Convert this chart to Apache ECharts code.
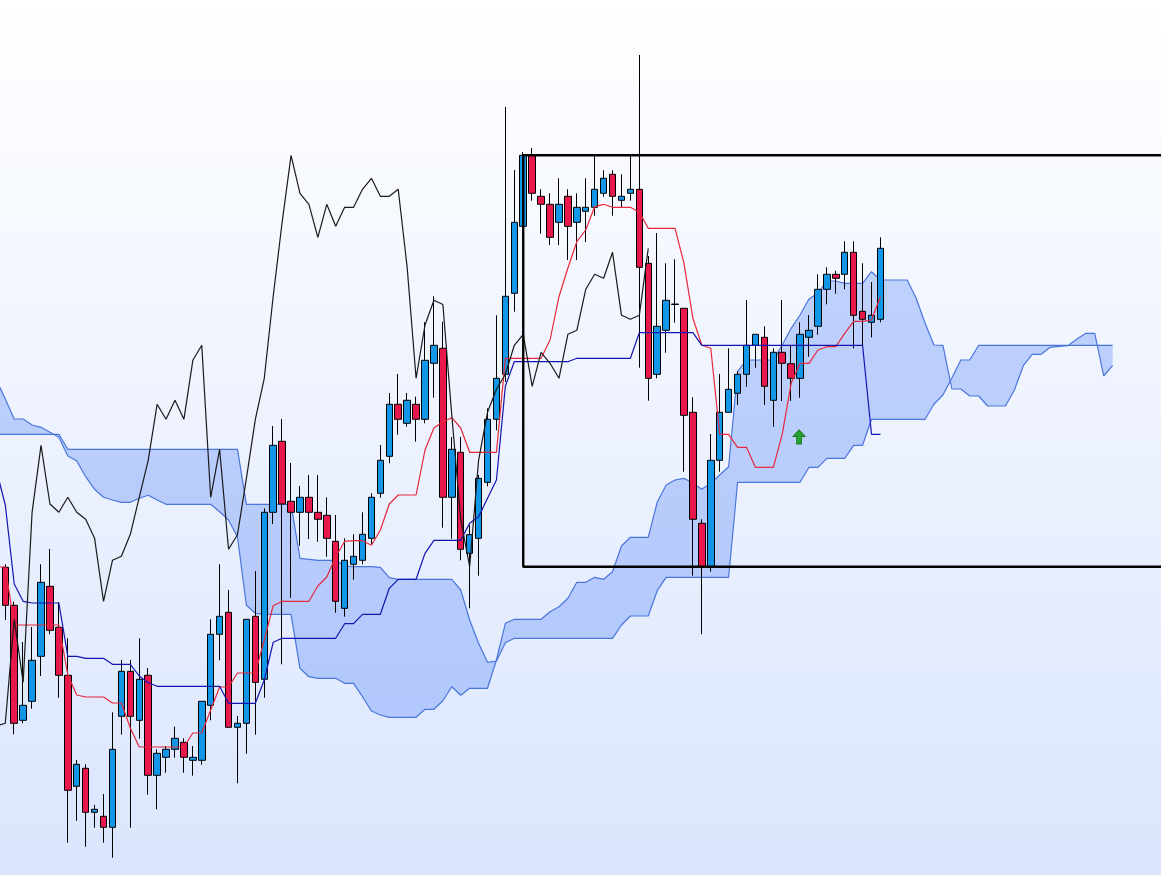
<!DOCTYPE html>
<html>
<head>
<meta charset="utf-8">
<style>html,body{margin:0;padding:0;width:100%;height:100%;overflow:hidden}#c{width:1161px;height:875px}</style>
<script src="https://cdn.jsdelivr.net/npm/echarts@6/dist/echarts.min.js"></script>
</head>
<body>
<div id="c"></div>
<script>
// Level scale is read top-down from the picture (axis is inverted). First candle is bar 0.
const opens = [567.3,605.3,720.3,701.3,656.3,586.3,627.3,675.3,786.3,768.3,812.3,816.3,827.3,716.3,671.3,720.3,675.3,775.3,757.3,749.3,742.3,760.3,760.3,705.3,634.3,612.3,727.3,723.3,616.3,679.3,512.3,441.3,501.3,512.3,497.3,512.3,515.3,541.3,608.3,564.3,560.3,538.3,493.3,456.3,404.3,423.3,404.3,419.3,363.3,348.3,497.3,452.3,553.3,538.3,482.3,419.3,374.3,293.3,226.3,155.3,196.3,204.3,222.3,196.3,222.3,211.3,207.3,193.3,174.3,200.3,193.3,189.3,263.3,374.3,330.3,304,308.3,412.3,523.3,566.7,460.3,412.3,393.3,374.3,345.3,337.3,400.3,352.3,363.7,378.3,337.3,326.3,289.3,274.3,274.3,252.3,311.3,322.3,319.3];
const closes = [605.3,723.3,705.3,660.3,582.3,630.3,675.3,790.3,764.3,812.3,809.3,827.3,749.3,671.3,716.3,679.3,775.3,753.3,749.3,738.3,757.3,757.3,701.3,634.3,616.3,727.3,723.3,619.3,682.3,512.3,445.3,504,512.3,497.3,512.3,519.3,538.3,601.3,560.3,556.3,534.3,497.3,460.3,404.3,419.3,400.3,419.3,360.3,345.3,497.3,449.3,549.3,534.7,478.3,419.3,378.3,296.3,222.3,155.3,193.3,204.3,237.3,204.3,226.3,207.3,207.3,189.3,178.3,196.3,196.3,189.3,267.3,378.3,326.3,300.3,304.5,415.3,519.3,566.7,460.3,412.3,389.3,374.3,345.3,334.3,386.3,352.3,363.3,378.3,334.3,330.3,289.3,274.3,278.3,252.3,315.3,319.3,315.3,248.3];
const wickTops = [564.3,601.7,642,627,564.3,549,602,638.3,760,764.3,805,794,712.3,660,660,638.3,668,749.3,746,726.7,738.3,746,701.3,619.3,564.3,590,716,619.3,571,508.3,426,419,463,486,475,475,497.3,515,538.3,534.3,512.3,493.3,445,393,374,393,396.7,322.3,296.3,321.7,437,437,525,475,408.3,315.3,107,170,152,148,189.3,193.3,178.3,189.3,193.3,178.3,155.3,170.3,170.3,174.3,155.3,55,256,233,263.3,259.3,308.3,397.3,519.3,434,374,348.3,371.3,300,334.3,326.3,348.3,300,346,322.3,315,274.3,267.3,270.7,241.3,241.3,263.3,282,237.3];
const wickBottoms = [620,734.3,723.3,708.7,676,634.3,697.7,842.7,820.7,846.7,827.7,842.7,857.7,734.7,827.7,738.7,794.7,809.3,772.7,757.7,772.7,775.7,764.7,720.3,660.3,727.3,783.3,753.7,734.7,697.7,524,664.3,597.7,545.7,539,541.7,556.7,612.7,616.7,579.7,564.3,544.3,497.7,463.3,434.7,426.7,441.7,423.3,397.7,527.7,538.7,560.3,608.3,575.7,486.3,430.3,382,311.7,226.3,200.7,233.7,245,245,260,260,242,215.7,196.7,215.7,207,200.7,367.7,400.7,378.3,352.7,322.7,471.7,575.7,634.3,571.7,471.7,412.3,405,386.7,367.7,405,426.7,401,401,397.7,356.7,334.7,304.3,293.7,289.3,348.3,345.3,337.3,322.3];
// Lines below start one bar earlier (bar -1, just off the left edge).
const tenkan = [567,567,625,625,625,625,625,625,675,695,697,697,697,703,703,728,747,747,747,747,747,747,733,733,710,687,687,673,673,673,640,605.7,601.3,601.3,601.3,601.3,586,577,556.7,541.3,540.7,540.7,545.3,530,504,495,495,495,450,428,421.7,417.7,428,452.3,452.3,452.3,452.3,358.3,358.3,358.3,358.3,358.3,340,296.7,268,241.7,230,206.7,204.3,207.3,207.3,207.3,212.3,228.3,228.3,228.3,228.3,263.3,318.3,345.3,348.3,434.3,434.3,447.3,447.3,467.3,467.3,467.3,434.3,383.3,363.3,363.3,350,346.7,346.7,333.3,321.3,321.3,320,296.7];
const kijun = [470,505,584,601.3,603,603,603,603,656.3,656.3,658.3,658.3,658.3,664.3,664.3,664.3,676,682.7,686.3,686.3,686.3,686.3,686.3,686.3,686.3,686.3,703.3,703.3,703.3,703.3,680,642.3,638.3,638.3,638.3,638.3,638.3,638.3,638.3,623.7,623.7,614.3,614.3,614.3,588.3,579.3,579.3,579.3,553.3,540.3,540.3,540.3,540.3,523.3,516.7,498.3,480,386,361.7,361.7,361.7,361.7,361.7,361.7,361.7,358.3,358.3,358.3,358.3,358.3,358.3,358.3,332.7,332.7,332.7,332.7,332.7,332.7,332.7,345.3,345.3,345.3,345.3,345.3,345.3,345.3,345.3,345.3,345.3,345.3,345.3,345.3,345.3,345.3,345.3,345.3,345.3,345.3,434.3,434.3];
const chikou = [726,723.3,619.3,682.3,512.3,445.3,504,512.3,497.3,512.3,519.3,538.3,601.3,560.3,556.3,534.3,497.3,460.3,404.3,419.3,400.3,419.3,360.3,345.3,497.3,449.3,549.3,534.7,478.3,419.3,378.3,296.3,222.3,155.3,193.3,204.3,237.3,204.3,226.3,207.3,207.3,189.3,178.3,196.3,196.3,189.3,267.3,378.3,325,300.3,304.5,415.3,519.3,566.7,460.3,412.3,389.3,374.3,345.3,334.3,386.3,352.3,363.3,378.3,334.3,330.3,289.3,274.3,278.3,252.3,315.3,319.3,315.3,248.3];
const spanA = [380,399,419,419,425,427.3,432.3,437.3,456,461,476.7,489.3,497.3,500,502.3,502.3,498.3,495.3,500,504.3,504.3,504.3,504.3,504.3,504.3,511.7,520,537,605.3,613.3,614.3,614.3,614.3,614.3,668.3,676.7,678.3,678.3,678.3,683.3,683.3,696.7,711,715,717.3,717.3,717.3,717.3,709.3,709.3,700.7,686.7,695.3,688.3,688.3,688.3,660,623.3,619.3,619.3,619.3,619.3,611.7,606.7,598.3,582.3,582.3,577.3,579.3,571.7,546,537.3,537.3,537.3,502.3,485,480,478.3,483.3,489.3,483.3,475,466.7,371.7,360,360,360,360,345,328.3,315,299,293.3,281,281,283.3,283.3,283.3,271.7,280,280,280,280,298.3,323.3,345,345.3,389,389,396,396,406,406,406,390,365.7,354.3,354.3,347.3,346.3,345.7,339,333.3,333.3,376,365.7];
const spanB = [434.3,434.3,434.3,434.3,434.3,434.3,434.3,434.3,449.3,449.3,449.3,449.3,449.3,449.3,449.3,449.3,449.3,449.3,449.3,449.3,449.3,449.3,449.3,449.3,449.3,449.3,449.3,449.3,504.3,504.3,504.3,504.3,504.3,504.3,558.3,559.3,560.3,560.3,560.3,566,566.7,566.7,566.7,567.3,577.7,579.3,579.3,579.3,579.3,579.3,579.3,579.3,590,620,643.3,662.3,661,642.7,638.3,638.3,638.3,638.3,638.3,638.3,638.3,638.3,638.3,638.3,638.3,638.3,625,616,616,616,590.7,577.3,577.3,577.3,577.3,577.3,577.3,577.3,577.3,482.3,482.3,482.3,482.3,482.3,482.3,482.3,482.3,467.3,467.3,458.3,458.3,458.3,445.3,445.3,419.3,419.3,419.3,419.3,419.3,419.3,419.3,404,395,378,360,360,345.3,345.3,345.3,345.3,345.3,345.3,345.3,345.3,345.3,345.3,345.3,345.3,345.3,345.3,345.3,345.3];
const boxLeftBar = '58', boxEndBar = '130', boxTop = 155.3, boxBottom = 566.7;
const signalBar = '89', signalLevel = 437;

const bars = [];
for (let i = -1; i <= 130; i++) bars.push(String(i));
const candles = [['-','-','-','-']].concat(opens.map((o, i) => [o, closes[i], wickTops[i], wickBottoms[i]]));

const chart = echarts.init(document.getElementById('c'), null, {renderer: 'canvas'});
const line = (name, data, color, z, width) => ({
  name, type: 'line', data, z, showSymbol: false, symbol: 'none', silent: true,
  lineStyle: {color, width: width || 1.2}, itemStyle: {color}
});
chart.setOption({
  animation: false,
  backgroundColor: new echarts.graphic.LinearGradient(0, 0, 0, 1, [
    {offset: 0, color: '#ffffff'}, {offset: 1, color: '#dae5fd'}
  ]),
  tooltip: {show: false},
  grid: {left: -3.63, top: 0, width: 1169.83, height: 875, containLabel: false, outerBoundsMode: 'none'},
  xAxis: {type: 'category', data: bars, boundaryGap: false, show: false},
  yAxis: {type: 'value', inverse: true, min: 0, max: 875, show: false},
  series: [
    {
      name: 'cloud', type: 'custom', z: 1, silent: true, clip: true, data: [[0, 0]],
      renderItem: (params, api) => {
        const pts = [];
        spanA.forEach((v, k) => pts.push(api.coord([k, v])));
        for (let k = spanB.length - 1; k >= 0; k--) pts.push(api.coord([k, spanB[k]]));
        return {type: 'polygon', shape: {points: pts}, style: {fill: 'rgba(96,140,250,0.36)', stroke: 'none'}};
      }
    },
    line('spanA', spanA, '#4a76dc', 1, 1.2),
    line('spanB', spanB, '#4a76dc', 1, 1.2),
    {
      name: 'price', type: 'candlestick', z: 2, silent: true, data: candles, barWidth: 7,
      itemStyle: {color: '#e8184c', color0: '#1296e8', borderColor: '#000', borderColor0: '#000', borderWidth: 1}
    },
    line('tenkan', tenkan, '#e8283c', 3),
    line('kijun', kijun, '#1414b0', 3),
    line('chikou', chikou, '#1a1a1a', 3),
    {
      name: 'box', type: 'line', z: 4, silent: true, showSymbol: false, symbol: 'none',
      data: [[boxEndBar, boxTop], [boxLeftBar, boxTop], [boxLeftBar, boxBottom], [boxEndBar, boxBottom]],
      lineStyle: {color: '#000', width: 2.4}
    },
    {
      name: 'signal', type: 'scatter', z: 5, silent: true,
      symbol: 'path://M5 0 L10 6 L7 6 L7 13 L3 13 L3 6 L0 6 Z', symbolSize: [12, 14], symbolOffset: [-1, 0],
      data: [[signalBar, signalLevel]],
      itemStyle: {color: '#25a52e', borderColor: '#1c7a25', borderWidth: 1, opacity: 1}
    }
  ]
});
</script>
</body>
</html>
